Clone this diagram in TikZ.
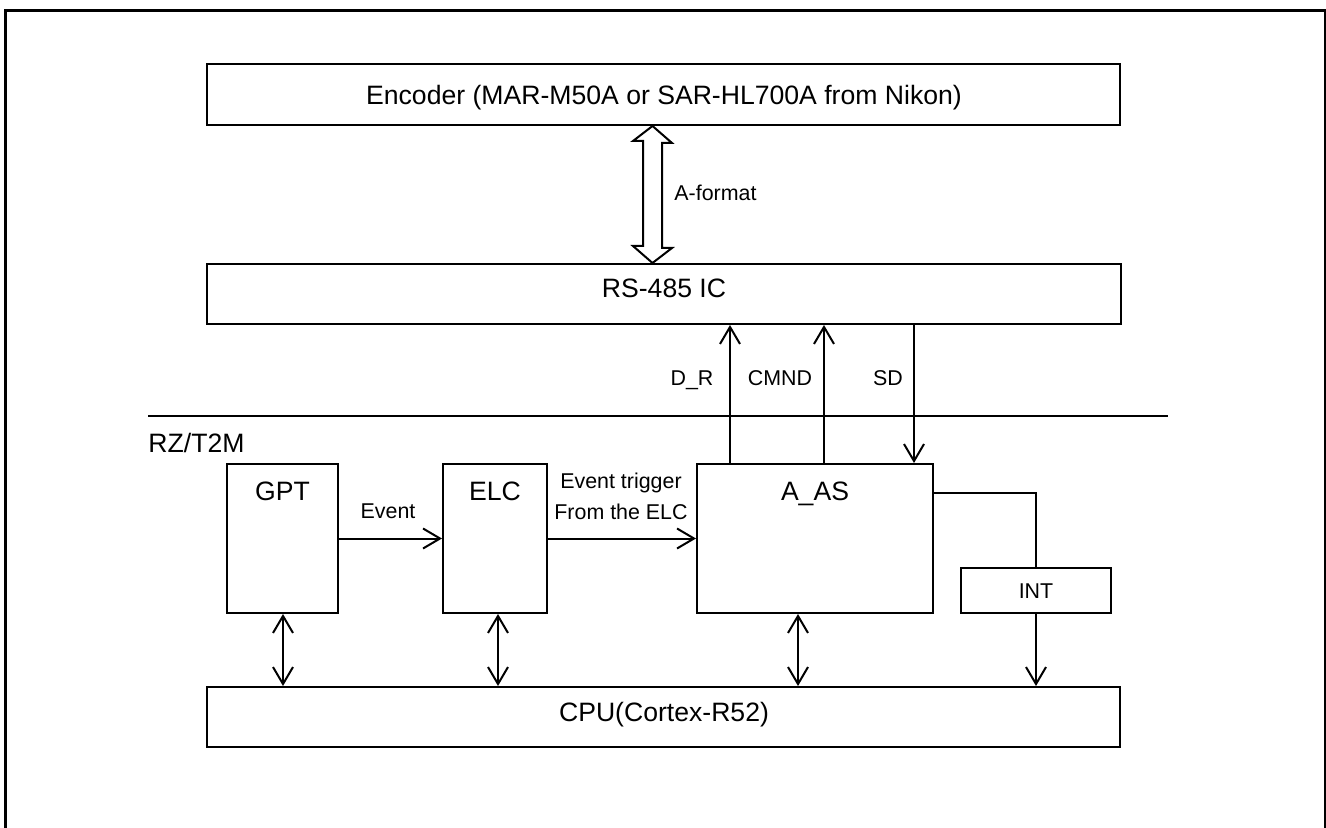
\documentclass[tikz,border=0pt]{standalone}
\usepackage{fontspec}
\setmainfont{Liberation Sans}
\usetikzlibrary{arrows.meta,fit}
\begin{document}
\begin{tikzpicture}[x=0.5pt,y=-0.5pt,
  box/.style={draw, line width=1pt, inner sep=0pt},
  big/.style={font=\fontsize{13.3}{15}\selectfont, inner sep=0pt, anchor=base},
  small/.style={font=\fontsize{10.7}{12}\selectfont, inner sep=0pt, anchor=base},
  arr/.style={line width=1pt, -{Straight Barb[length=8.5pt,width=10pt]}},
  darr/.style={line width=1pt, {Straight Barb[length=8.5pt,width=10pt]}-{Straight Barb[length=8.5pt,width=10pt]}},
  ln/.style={line width=1pt},
  hollow/.style={line width=1pt, fill=white, line join=miter}]
\useasboundingbox (0,0) rectangle (1326,828);
% outer frame
\draw[line width=1.5pt] (5,860) -- (5,11) -- (1325,11) -- (1325,860);
% boxes
\node[box, fit={(207,64)(1120,125)}] (enc) {};
\node[big] at (664,105) {Encoder (MAR-M50A or SAR-HL700A from Nikon)};
\node[box, fit={(207,264)(1121,324)}] (rs) {};
\node[big] at (664,298) {RS-485 IC};
\node[box, fit={(227,464)(338,613)}] (gpt) {};
\node[big] at (282.5,500) {GPT};
\node[box, fit={(443,464)(547,613)}] (elc) {};
\node[big] at (495,500) {ELC};
\node[box, fit={(697,464)(933,613)}] (aas) {};
\node[big] at (815,500) {A\_AS};
\node[box, fit={(961,568)(1111,613)}] (int) {};
\node[small] at (1036,598) {INT};
\node[box, fit={(207,687)(1120,747)}] (cpu) {};
\node[big] at (664,721) {CPU(Cortex-R52)};
% double arrow A-format
\coordinate (da) at (652.5,0);
\draw[hollow] (enc.south -| da) -- ++(19.5,17) -- ++(-10,0) -- ++(0,105) -- ++(10,0)
  -- (rs.north -| da) -- ++(-19.5,-17) -- ++(10,0) -- ++(0,-105) -- ++(-10,0) -- cycle;
\node[small, anchor=base west] at (674,201) {A-format};
% separator
\draw[ln] (148,416) -- (1168,416);
\node[big, anchor=base west] at (148,452) {RZ/T2M};
% RS-485 links
\coordinate (xdr) at (730,0);
\coordinate (xcm) at (824,0);
\coordinate (xsd) at (914,0);
\draw[arr] (aas.north -| xdr) -- (rs.south -| xdr);
\draw[arr] (aas.north -| xcm) -- (rs.south -| xcm);
\draw[arr] (rs.south -| xsd) -- (aas.north -| xsd);
\node[small] at (692,386) {D\_R};
\node[small] at (780,386) {CMND};
\node[small] at (888,386) {SD};
% events
\draw[arr] (gpt.east) -- (elc.west);
\node[small] at (388,518) {Event};
\draw[arr] (elc.east) -- (aas.west);
\node[small] at (621,488) {Event trigger};
\node[small] at (621,519) {From the ELC};
% INT
\coordinate (yint) at (0,493);
\draw[ln] (aas.east |- yint) -| (int.north);
\draw[arr] (int.south) -- (cpu.north -| int.south);
% bus arrows
\coordinate (xg) at (283,0);
\coordinate (xe) at (498,0);
\coordinate (xa) at (798,0);
\draw[darr] (gpt.south -| xg) -- (cpu.north -| xg);
\draw[darr] (elc.south -| xe) -- (cpu.north -| xe);
\draw[darr] (aas.south -| xa) -- (cpu.north -| xa);
\end{tikzpicture}
\end{document}
